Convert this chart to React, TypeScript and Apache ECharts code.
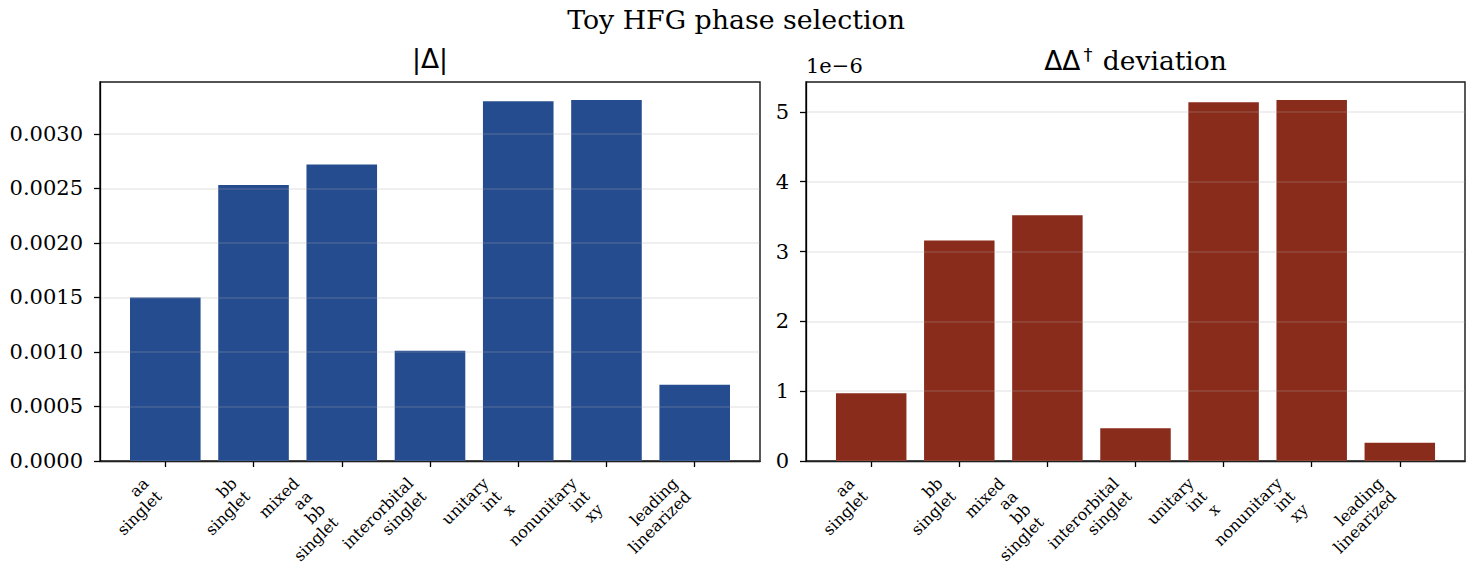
import React, { useEffect, useRef } from "react";
import * as echarts from "echarts";

// Phase candidates shown on both panels
const categories = [
  "aa\nsinglet",
  "bb\nsinglet",
  "mixed\naa\nbb\nsinglet",
  "interorbital\nsinglet",
  "unitary\nint\nx",
  "nonunitary\nint\nxy",
  "leading\nlinearized",
];

// |Δ| per phase
const gapMagnitude = [0.0015, 0.00253, 0.00272, 0.00101, 0.0033, 0.00331, 0.0007];

// ΔΔ† deviation per phase
const hermiticityDeviation = [0.97e-6, 3.16e-6, 3.52e-6, 0.47e-6, 5.14e-6, 5.17e-6, 0.26e-6];

const gapTickStep = 0.0005;
const deviationTickStep = 1e-6;

const SERIF = "'DejaVu Serif', serif";
const SANS = "'DejaVu Sans', sans-serif";
const BLUE = "#244c8f";
const RED = "#8a2c1b";

const W = 1472;
const H = 576;
const grids = [
  { left: 100, top: 82, width: 660, height: 379 },
  { left: 806, top: 82, width: 659, height: 379 },
];

const TICK_FS = 21;
const TITLE_FS = 26.8;
const SUB_FS = 26.5;
const LABEL_FS = 16;
const LABEL_LH = LABEL_FS * 1.15;

export default function App() {
  const ref = useRef<HTMLDivElement>(null);

  useEffect(() => {
    if (!ref.current) return;
    const chart = echarts.init(ref.current, null, { renderer: "svg" });

    const n = categories.length;
    const barFrac = 0.8;
    const margin = 0.05 * (n - 1 + barFrac);
    const xMin = -barFrac / 2 - margin;
    const xMax = n - 1 + barFrac / 2 + margin;
    const idx = categories.map((_, i) => i);

    const xAxisFor = (gi: number) => ({
      type: "value",
      gridIndex: gi,
      min: xMin,
      max: xMax,
      axisLine: { show: true, onZero: false, lineStyle: { color: "#000", width: 1.3 } },
      axisTick: {
        show: true,
        customValues: idx,
        length: 6,
        lineStyle: { color: "#000", width: 1.3 },
      },
      axisLabel: { show: false },
      splitLine: { show: false },
    });

    const yAxisFor = (gi: number, max: number, step: number, fmt: (v: number) => string, name?: string) => ({
      type: "value",
      gridIndex: gi,
      min: 0,
      max,
      interval: step,
      z: 5,
      name,
      nameLocation: "end",
      nameGap: 6,
      nameTextStyle: {
        align: "left",
        verticalAlign: "bottom",
        fontFamily: SERIF,
        fontSize: TICK_FS,
        color: "#000",
      },
      axisLine: { show: true, onZero: false, lineStyle: { color: "#000", width: 1.3 } },
      axisTick: { show: true, length: 6, lineStyle: { color: "#000", width: 1.3 } },
      axisLabel: {
        fontFamily: SERIF,
        fontSize: TICK_FS,
        color: "#000",
        margin: 17,
        showMaxLabel: false,
        formatter: fmt,
      },
      splitLine: { show: true, lineStyle: { color: "rgba(170,170,170,0.25)", width: 1.5 } },
    });

    const gapMax = 1.05 * Math.max(...gapMagnitude);
    const devMax = 1.05 * Math.max(...hermiticityDeviation);

    const barWidth = (gi: number) => (barFrac * grids[gi].width) / (xMax - xMin);

    chart.setOption({
      animation: false,
      backgroundColor: "#fff",
      title: [
        {
          text: "Toy HFG phase selection",
          left: W / 2,
          top: 6,
          padding: 0,
          textAlign: "center",
          textStyle: { fontFamily: SERIF, fontSize: TITLE_FS, fontWeight: "normal", color: "#000" },
        },
        {
          text: "|Δ|",
          left: grids[0].left + grids[0].width / 2,
          top: 45,
          padding: 0,
          textAlign: "center",
          textStyle: { fontFamily: SANS, fontSize: SUB_FS, fontWeight: "normal", color: "#000" },
        },
        {
          text: "{d|ΔΔ}{s|†}{t| deviation}",
          left: grids[1].left + grids[1].width / 2,
          top: 45,
          padding: 0,
          textAlign: "center",
          textStyle: {
            fontSize: SUB_FS,
            fontWeight: "normal",
            color: "#000",
            rich: {
              d: { fontFamily: SANS, fontSize: SUB_FS, fontWeight: "normal", color: "#000" },
              s: {
                fontFamily: SANS,
                fontSize: 18,
                fontWeight: "normal",
                color: "#000",
                padding: [0, 2, 12, 3],
              },
              t: { fontFamily: SERIF, fontSize: SUB_FS, fontWeight: "normal", color: "#000" },
            },
          },
        },
      ],
      grid: grids.map((g) => ({
        ...g,
        show: true,
        borderColor: "#000",
        borderWidth: 1.3,
        backgroundColor: "transparent",
        containLabel: false,
      })),
      xAxis: [xAxisFor(0), xAxisFor(1)],
      yAxis: [
        yAxisFor(0, gapMax, gapTickStep, (v: number) => v.toFixed(4)),
        yAxisFor(1, devMax, deviationTickStep, (v: number) => String(Math.round(v / deviationTickStep)), "1e\u22126"),
      ],
      series: [
        {
          type: "bar",
          xAxisIndex: 0,
          yAxisIndex: 0,
          barWidth: barWidth(0),
          itemStyle: { color: BLUE },
          data: gapMagnitude.map((v, i) => [i, v]),
        },
        {
          type: "bar",
          xAxisIndex: 1,
          yAxisIndex: 1,
          barWidth: barWidth(1),
          itemStyle: { color: RED },
          data: hermiticityDeviation.map((v, i) => [i, v]),
        },
      ],
    });

    // Rotated, right-aligned category labels under each tick
    const labels: any[] = [];
    [0, 1].forEach((gi) => {
      categories.forEach((c, i) => {
        const p = chart.convertToPixel({ gridIndex: gi }, [i, 0]) as number[];
        const lines = c.split("\n").length;
        const blockH = lines * LABEL_LH;
        labels.push({
          type: "text",
          x: p[0],
          y: p[1] + 13 + blockH / Math.SQRT2,
          rotation: Math.PI / 4,
          style: {
            text: c,
            align: "right",
            verticalAlign: "bottom",
            fontFamily: SERIF,
            fontSize: LABEL_FS,
            lineHeight: LABEL_LH,
            fill: "#000",
          },
        });
      });
    });
    chart.setOption({ graphic: labels });

    return () => chart.dispose();
  }, []);

  return (
    <div
      ref={ref}
      style={{ position: "fixed", left: 0, top: 0, width: W, height: H, background: "#fff" }}
    />
  );
}
